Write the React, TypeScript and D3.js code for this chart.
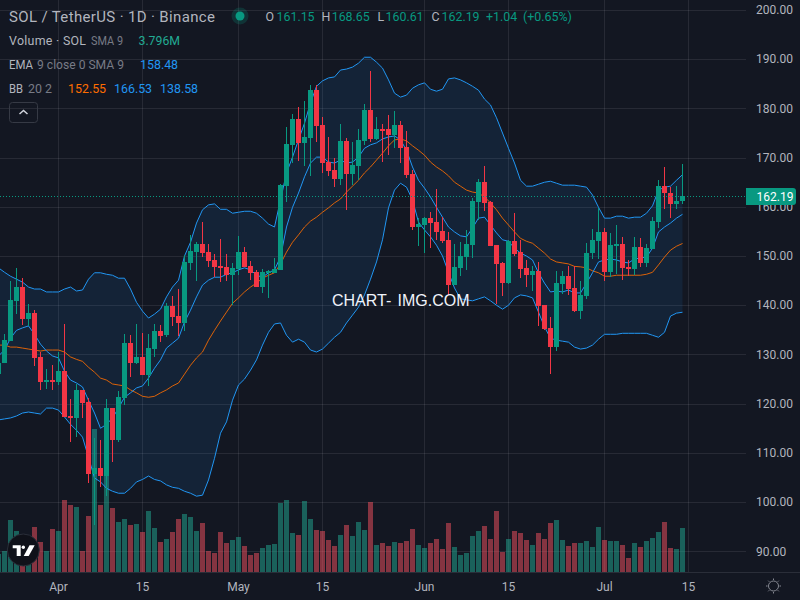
import React from "react";
import * as d3 from "d3";

const W = 800, H = 600;
const firstDay = Date.UTC(2025, 2, 22);

const opens = [126.0,
128.3,132.7,140.9,143.7,137.2,138.4,129.5,124.4,124.8,124.4,
126.6,117.5,117.1,122.8,120.3,105.7,106.9,105.3,119.1,112.6,
121.1,132.3,128.3,129.5,125.8,131.1,134.8,133.9,139.8,137.8,
136.4,148.6,150.8,152.4,150.8,149.2,147.9,147.8,146.1,147.4,
150.8,147.9,146.7,143.7,146.5,146.5,147.2,164.2,172.6,177.8,
172.9,174.0,183.7,176.6,169.1,167.5,165.6,173.4,166.7,168.3,
173.4,179.7,173.8,175.8,175.8,174.6,176.6,172.2,166.7,155.9,
156.3,157.7,156.9,155.1,153.3,144.1,147.6,149.8,152.2,161.0,
165.0,161.0,152.2,148.6,144.5,153.0,150.8,147.6,146.1,146.9,
140.0,135.4,131.5,144.3,145.9,143.5,138.8,141.9,150.6,153.0,
154.9,146.8,152.0,152.4,147.8,147.4,151.8,148.6,151.4,156.9,
164.2,162.8,160.6,161.15];
const highs = [129.0,
134.1,144.9,147.6,145.5,140.2,139.0,130.5,127.0,127.8,130.5,
136.2,120.9,124.0,122.8,121.1,113.0,112.6,120.9,119.1,122.6,
134.1,133.9,136.2,134.4,134.1,136.2,136.0,140.4,141.9,143.3,
150.2,154.3,152.8,156.9,152.4,150.4,153.4,150.4,148.6,154.1,
151.8,149.0,147.1,147.4,147.1,149.6,164.6,176.2,178.9,180.3,
181.5,184.8,184.8,178.2,174.2,169.9,176.8,174.0,173.2,175.8,
180.9,187.6,178.2,176.8,178.7,179.5,177.4,175.4,167.5,157.7,
157.9,158.9,163.6,157.9,154.9,152.4,152.8,155.3,161.8,165.6,
168.3,161.2,152.2,148.8,153.3,158.7,153.3,149.2,147.9,148.8,
140.0,137.6,146.9,146.9,147.9,147.9,144.9,152.6,155.4,159.8,
155.7,154.6,156.3,153.9,149.2,153.9,153.6,152.4,157.9,165.4,
168.1,164.0,164.2,168.65];
const lows = [125.0,
128.3,132.7,138.2,136.0,135.8,127.6,122.8,123.0,122.8,123.8,
117.3,112.2,113.2,117.1,103.9,95.3,103.0,101.2,108.1,112.2,
119.7,125.4,128.0,125.8,123.6,129.5,132.5,133.5,135.8,133.7,
134.8,147.1,144.9,149.8,147.8,145.7,144.7,144.9,140.0,146.1,
147.8,145.1,143.7,142.5,141.5,146.5,147.2,161.0,168.9,169.3,
168.3,166.3,173.2,166.9,166.3,164.0,164.4,159.3,164.4,165.4,
172.6,173.2,173.6,169.1,170.5,171.9,168.9,165.9,155.3,152.0,
150.6,151.6,153.3,152.6,142.1,144.1,145.9,147.1,149.6,157.3,
159.1,152.0,140.2,141.9,144.3,150.0,145.5,143.7,142.9,135.8,
135.0,126.0,130.7,142.3,142.1,138.6,137.2,141.3,149.4,149.4,
144.9,145.7,146.3,145.1,145.9,146.1,147.8,147.8,151.4,155.7,
159.6,157.7,159.6,160.61];
const closes = [128.3,
132.9,141.1,143.7,137.2,138.4,129.2,124.4,124.8,124.4,126.6,
117.3,117.1,122.8,120.1,105.7,106.9,105.3,119.1,112.6,121.3,
132.3,128.3,129.5,125.8,131.3,134.8,133.7,139.8,137.6,136.4,
148.8,151.0,152.4,150.6,149.0,147.8,147.6,146.1,147.6,150.8,
147.8,146.5,143.7,146.7,146.9,147.4,164.4,172.8,177.8,172.9,
174.2,183.7,176.4,168.9,167.3,165.6,173.4,166.7,168.5,173.6,
179.7,173.8,175.8,175.6,174.6,176.6,171.9,166.4,155.9,156.5,
157.7,156.7,154.9,153.0,144.1,147.8,150.0,152.4,161.2,165.0,
160.8,152.0,148.4,144.5,153.0,150.4,147.4,146.1,146.9,139.8,
135.2,131.5,144.5,145.9,143.3,138.8,142.1,150.6,153.3,154.9,
146.8,152.2,152.4,147.6,147.4,151.8,148.6,151.6,157.1,164.2,
162.8,160.6,161.2,162.19];
const volumes = [1.58,
1.84,4.52,3.57,1.5,1.2,3.91,2.62,1.84,3.74,3.57,
6.24,5.81,5.64,1.84,4.86,12.34,5.81,10.5,5.55,4.34,
4.60,4.08,4.17,3.48,5.29,3.83,2.62,2.88,3.48,4.60,
5.03,4.77,3.57,4.26,1.84,1.67,3.48,2.53,2.79,3.05,
2.27,1.50,1.67,2.10,2.36,2.44,5.98,6.24,3.39,3.22,
6.15,4.60,3.65,3.57,2.79,2.27,3.22,4.08,3.13,4.34,
3.65,6.07,2.36,2.53,2.27,2.62,2.53,2.70,3.74,2.36,
2.10,2.53,2.88,2.01,4.26,2.19,1.50,1.67,3.13,3.57,
4.00,2.88,5.29,1.75,2.88,3.57,3.39,2.79,2.36,3.39,
2.88,4.26,4.52,2.79,2.27,2.53,2.53,2.70,2.19,3.91,
2.79,2.70,2.70,2.36,1.24,2.53,2.19,2.70,2.96,3.48,
4.34,2.10,2.01,3.796];
const bbUpper = [147.6,
146.7,145.9,145.3,144.7,143.7,143.3,143.3,142.7,142.7,142.7,
143.3,143.7,142.9,143.1,145.3,146.6,146.6,146.3,146.1,145.5,
145.5,143.3,140.6,138.8,137.4,138.2,139.2,141.7,143.7,145.1,
150.0,152.8,156.7,159.4,160.4,160.6,159.5,159.5,158.7,158.9,
159.1,159.1,158.7,157.7,156.5,155.9,161.4,166.9,170.1,173.6,
177.0,181.1,184.5,185.6,186.2,186.4,187.8,188.0,188.4,189.2,
190.4,190.4,189.4,188.2,185.8,183.1,182.3,182.7,184.1,184.8,
185.2,183.9,183.5,183.9,186.0,186.2,185.8,185.2,184.5,183.7,
181.9,180.7,178.1,175.0,171.9,168.9,165.4,164.2,164.2,164.6,
165.0,165.2,164.8,164.4,164.4,164.4,164.2,164.0,162.4,159.9,
157.7,157.7,158.1,158.1,157.7,157.9,157.9,158.7,160.2,163.4,
164.0,164.2,165.4,166.53];
const bbLower = [116.7,
116.9,117.1,117.5,118.1,118.3,118.1,117.9,119.1,119.1,118.7,
117.3,115.8,114.6,113.2,109.1,104.9,104.1,102.8,102.2,101.8,
101.8,102.8,104.1,104.6,105.3,104.6,104.3,103.5,103.0,102.8,
102.2,101.8,101.2,101.4,104.5,108.9,114.0,116.3,120.7,123.8,
125.0,126.8,128.9,131.9,134.5,136.2,136.4,133.9,132.5,133.1,
132.5,130.9,130.5,131.1,132.3,133.5,134.5,136.4,138.0,139.6,
142.1,145.3,148.8,153.3,159.8,163.4,164.8,164.0,161.4,156.9,
155.3,153.9,152.2,150.0,146.7,143.5,141.3,141.1,140.9,141.3,
141.7,140.9,140.0,139.2,140.0,141.5,142.1,141.9,141.5,138.6,
135.6,133.3,132.9,132.7,132.5,131.5,131.1,131.3,131.9,133.1,
134.1,134.1,134.1,134.3,134.3,134.3,134.3,134.3,133.9,133.5,
134.5,137.8,138.4,138.58];
const bbBasis = [131.9,
131.9,131.5,131.5,131.3,131.1,130.9,130.7,130.9,130.9,130.9,
130.5,129.5,129.0,128.6,127.4,126.4,125.2,124.8,124.0,123.8,
123.6,122.8,122.2,121.5,121.3,121.5,122.2,122.8,123.6,124.2,
126.0,127.8,129.3,130.5,132.9,134.9,136.8,138.6,140.4,141.5,
142.7,143.7,144.5,145.5,146.1,146.6,148.4,150.8,152.8,154.3,
155.9,157.1,157.9,158.9,159.8,160.8,161.6,163.0,164.2,165.4,
166.9,168.1,169.5,170.9,172.4,173.6,173.8,173.4,172.4,171.5,
170.5,169.1,168.1,167.3,166.3,165.0,164.2,163.4,163.0,162.8,
162.0,160.8,159.4,157.7,156.3,154.9,153.6,153.0,152.6,151.6,
150.6,149.4,148.8,148.6,148.4,147.9,147.8,147.6,147.0,146.6,
145.9,145.9,146.1,146.1,146.1,146.1,146.1,146.3,146.7,148.2,
149.8,151.2,152.0,152.55];
const ema = [129.7,
130.9,133.3,134.9,135.4,135.8,134.1,132.1,130.7,129.7,129.3,
126.6,124.8,124.2,123.4,120.7,118.1,115.0,115.8,117.1,119.1,
121.3,122.2,123.2,123.6,125.2,127.2,128.9,131.3,132.3,133.3,
136.6,139.0,141.7,144.1,145.1,145.7,145.7,146.3,146.6,147.2,
147.6,147.2,146.1,145.7,146.6,147.2,149.8,155.9,159.9,162.8,
166.1,168.9,170.1,170.1,169.1,168.9,169.5,168.9,169.1,170.1,
171.9,172.6,173.0,173.8,174.2,174.4,173.6,171.5,168.1,165.4,
163.8,162.0,159.9,157.9,155.9,154.9,154.1,153.9,155.7,157.7,
157.9,156.3,154.7,153.3,153.0,151.6,150.6,150.0,149.2,146.6,
144.5,142.7,142.9,142.7,143.1,142.5,142.5,144.5,146.6,148.8,
149.2,149.4,149.2,148.8,148.6,149.4,149.6,149.8,151.6,154.9,
155.9,156.7,157.7,158.48];

const priceTicks = [200, 190, 180, 170, 160, 150, 140, 130, 120, 110, 100, 90];
const timeTicks: [number, number, string][] = [
  [3, 1, "Apr"], [3, 15, "15"], [4, 1, "May"], [4, 15, "15"],
  [5, 1, "Jun"], [5, 15, "15"], [6, 1, "Jul"], [6, 15, "15"],
];
const lastPrice = 162.19;

const UP = "#089981", DOWN = "#f23645";
const VOL_UP = "rgba(34,171,148,0.5)", VOL_DOWN = "rgba(247,82,95,0.5)";
const BG = "#131722";
const GRID = "rgba(240,243,250,0.09)";
const BLUE = "#2196f3", ORANGE = "#ff6d00";
const FONT = "Roboto, sans-serif";

const dates = opens.map((_, i) => new Date(firstDay + i * 864e5));
// Apr 1 sits at 58.5 and Jul 15 at 688.5
const x = d3.scaleUtc().domain([new Date(Date.UTC(2025, 3, 1)), new Date(Date.UTC(2025, 6, 15))]).range([58.5, 688.5]);
const y = d3.scaleLinear().domain([90, 200]).range([551.3, 10]);
const yVol = d3.scaleLinear().domain([0, 12.34]).range([572, 429]);
const idx = d3.range(opens.length);

const lineOf = (vals: number[]) =>
  d3.line<number>().x((i) => x(dates[i])).y((i) => y(vals[i]))(idx) as string;
const band = d3.area<number>().x((i) => x(dates[i])).y0((i) => y(bbLower[i])).y1((i) => y(bbUpper[i]))(idx) as string;

function Txt(p: any) {
  return <text fontFamily={FONT} fontSize={12.4} {...p} />;
}

export default function App() {
  const lastY = y(lastPrice);
  return (
    <svg width={W} height={H} viewBox={`0 0 ${W} ${H}`} style={{ position: "fixed", left: 0, top: 0, display: "block" }}>
      <defs>
        <clipPath id="pane"><rect x={0} y={0} width={746} height={572} /></clipPath>
      </defs>
      <rect width={W} height={H} fill={BG} />
      {/* grid */}
      {priceTicks.map((t) => (
        <line key={t} x1={0} x2={746} y1={Math.round(y(t)) + 0.5} y2={Math.round(y(t)) + 0.5} stroke={GRID} />
      ))}
      {timeTicks.map(([m, d]) => {
        const px = x(new Date(Date.UTC(2025, m, d)));
        return <line key={`${m}-${d}`} x1={px} x2={px} y1={0} y2={572} stroke={GRID} />;
      })}
      <g clipPath="url(#pane)">
        {/* volume */}
        {idx.map((i) => (
          <rect key={i} x={x(dates[i]) - 2.5} width={5} y={Math.round(yVol(volumes[i]))} height={572 - Math.round(yVol(volumes[i]))}
            fill={closes[i] >= opens[i] ? VOL_UP : VOL_DOWN} shapeRendering="crispEdges" />
        ))}
        {/* bollinger */}
        <path d={band} fill="rgba(33,150,243,0.1)" />
        <path d={lineOf(bbBasis)} fill="none" stroke={ORANGE} strokeWidth={1} strokeOpacity={0.85} />
        <path d={lineOf(bbUpper)} fill="none" stroke={BLUE} strokeWidth={1} />
        <path d={lineOf(bbLower)} fill="none" stroke={BLUE} strokeWidth={1} />
        <path d={lineOf(ema)} fill="none" stroke={BLUE} strokeWidth={1} />
        {/* candles */}
        {idx.map((i) => {
          const cx = x(dates[i]);
          const c = closes[i] >= opens[i] ? UP : DOWN;
          const top = Math.round(y(Math.max(opens[i], closes[i])));
          const bot = Math.round(y(Math.min(opens[i], closes[i])));
          const hi = Math.round(y(highs[i]));
          const lo = Math.round(y(lows[i]));
          return (
            <g key={i} fill={c} shapeRendering="crispEdges">
              <rect x={cx - 0.5} width={1} y={hi} height={Math.max(lo - hi, 1)} />
              <rect x={cx - 2.5} width={5} y={top} height={Math.max(bot - top, 2)} />
            </g>
          );
        })}
      </g>
      {/* last price line */}
      <line x1={0} x2={746} y1={Math.floor(lastY) + 0.5} y2={Math.floor(lastY) + 0.5} stroke={UP} strokeDasharray="1 2" />
      {/* axes */}
      <line x1={0} x2={W} y1={572.5} y2={572.5} stroke="#2a2e39" />
      {priceTicks.map((t) => (
        <Txt key={t} x={756} y={y(t)} dy="0.35em" fontSize={12} fill="#b2b5be">{t.toFixed(2)}</Txt>
      ))}
      {timeTicks.map(([m, d, l]) => (
        <Txt key={`${m}-${d}`} x={x(new Date(Date.UTC(2025, m, d)))} y={590.5} textAnchor="middle" fontSize={12} fill="#b2b5be">{l}</Txt>
      ))}
      <path d={`M746 ${Math.floor(lastY) - 8}H793a3 3 0 0 1 3 3V${Math.floor(lastY) + 6}a3 3 0 0 1 -3 3H746Z`} fill={UP} />
      <Txt x={756.5} y={lastY} dy="0.38em" fontSize={12} fill="#fff">{lastPrice.toFixed(2)}</Txt>
      {/* sun icon */}
      <g transform="translate(773.5 586)" fill="none" stroke="#868993">
        <circle r={5} />
        {d3.range(8).map((k) => {
          const a = (k * Math.PI) / 4;
          return <line key={k} x1={Math.cos(a) * 6} y1={Math.sin(a) * 6} x2={Math.cos(a) * 7.5} y2={Math.sin(a) * 7.5} />;
        })}
      </g>
      {/* legend */}
      <Txt x={9} y={21.5} fontSize={15} fill="#b2b5be" textLength={206} lengthAdjust="spacing">SOL / TetherUS · 1D · Binance</Txt>
      <circle cx={240} cy={16} r={8.5} fill="rgba(8,153,129,0.22)" />
      <circle cx={240} cy={16} r={4.5} fill={UP} />
      <Txt x={265.5} y={21} fill="#b2b5be">O</Txt><Txt x={276.5} y={21} fill={UP}>161.15</Txt>
      <Txt x={321.5} y={21} fill="#b2b5be">H</Txt><Txt x={331.7} y={21} fill={UP}>168.65</Txt>
      <Txt x={377.5} y={21} fill="#b2b5be">L</Txt><Txt x={385.5} y={21} fill={UP}>160.61</Txt>
      <Txt x={431.5} y={21} fill="#b2b5be">C</Txt><Txt x={441.5} y={21} fill={UP}>162.19</Txt>
      <Txt x={486} y={21} fill={UP}>+1.04</Txt>
      <Txt x={523} y={21} fill={UP}>(+0.65%)</Txt>

      <Txt x={9} y={45} fill="#b2b5be" textLength={77} lengthAdjust="spacing">Volume · SOL</Txt>
      <Txt x={91} y={45} fill="#787b86" textLength={32} lengthAdjust="spacingAndGlyphs">SMA 9</Txt>
      <Txt x={138.5} y={45} fill="#22ab94" textLength={41.5} lengthAdjust="spacingAndGlyphs">3.796M</Txt>

      <Txt x={9} y={69} fill="#b2b5be" textLength={24} lengthAdjust="spacingAndGlyphs">EMA</Txt>
      <Txt x={37} y={69} fill="#787b86" textLength={87} lengthAdjust="spacingAndGlyphs">9 close 0 SMA 9</Txt>
      <Txt x={140} y={69} fill={BLUE}>158.48</Txt>

      <Txt x={9} y={93} fill="#b2b5be" textLength={14} lengthAdjust="spacingAndGlyphs">BB</Txt>
      <Txt x={28} y={93} fill="#787b86" textLength={24} lengthAdjust="spacingAndGlyphs">20 2</Txt>
      <Txt x={68} y={93} fill={ORANGE}>152.55</Txt>
      <Txt x={114} y={93} fill={BLUE}>166.53</Txt>
      <Txt x={160} y={93} fill={BLUE}>138.58</Txt>

      <rect x={9.5} y={102.5} width={28} height={20} rx={3} fill="none" stroke="#363a45" />
      <path d="M19.5 114l4 -3.5l4 3.5" fill="none" stroke="#d1d4dc" strokeWidth={1.5} />

      {/* watermark */}
      <text x={332} y={306} fontFamily="Liberation Sans, Arial, sans-serif" fontSize={16} fill="#f0f3fa">
        CHART-<tspan x={397.5}>IMG.COM</tspan>
      </text>

      {/* logo */}
      <circle cx={23.3} cy={550} r={16} fill="#0f1119" stroke="#2a2e39" />
      <g fill="#fff">
        <path d="M12.7 545.3H20.7V556H16.7V548.3H12.7Z" />
        <circle cx={23.3} cy={547.3} r={1.7} />
        <path d="M29.5 545.3H34.7L28.7 556H23.7Z" />
      </g>
    </svg>
  );
}
